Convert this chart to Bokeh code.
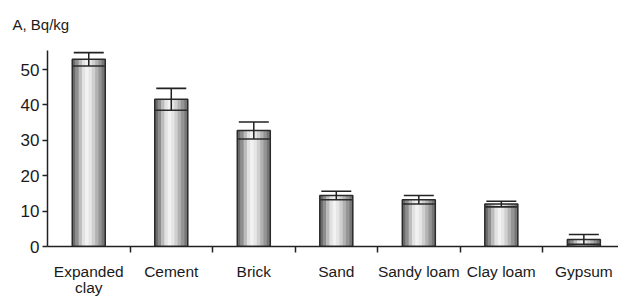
import numpy as np
from bokeh.plotting import figure
from bokeh.models import (ColumnDataSource, Range1d, FixedTicker, Whisker, TeeHead)
from bokeh.transform import dodge
from bokeh.embed import file_html
from bokeh.resources import INLINE

categories = ["Expanded\nclay", "Cement", "Brick", "Sand", "Sandy loam", "Clay loam", "Gypsum"]
values = [52.9, 41.6, 32.8, 14.4, 13.2, 12.0, 2.0]
errors = [1.9, 3.1, 2.4, 1.2, 1.2, 0.8, 1.4]
y_ticks = [0, 10, 20, 30, 40, 50]

xpos = np.arange(len(categories)) + 0.5
src = ColumnDataSource(dict(
    x=xpos, top=values,
    lower=np.array(values) - np.array(errors),
    upper=np.array(values) + np.array(errors),
))

FONT = "Liberation Sans"
p = figure(width=618, height=298, output_backend="svg", toolbar_location=None,
           x_range=Range1d(0, 6.92), y_range=Range1d(0, 55.4),
           min_border_left=47, min_border_right=0, min_border_top=50, min_border_bottom=52)
p.outline_line_color = None
p.grid.visible = False
p.background_fill_color = "white"

p.title.text = "A, Bq/kg"
p.title.align = "left"
p.title.vertical_align = "top"
p.title.offset = -35
p.title.standoff = 31
p.title.text_font = FONT
p.title.text_font_size = "15px"
p.title.text_font_style = "normal"
p.title.text_color = "#1a1a1a"

# cylinder-like shading via strips
BAR_W = 0.4
shades = ["#6a6a6a", "#8e8e8e", "#bcbcbc", "#e2e2e2", "#f2f2f2", "#e6e6e6",
          "#cfcfcf", "#b2b2b2", "#959595", "#767676"]
n = len(shades)
step = BAR_W / n
for i, c in enumerate(shades):
    off = -BAR_W / 2 + step * (i + 0.5)
    p.vbar(x=dodge("x", off), top="top", bottom=0, width=step * 1.15, source=src,
           fill_color=c, line_color=None)
p.vbar(x="x", top="top", bottom=0, width=BAR_W, source=src, fill_color=None,
       line_color="#2a2a2a", line_width=1.5)

wh = Whisker(base="x", lower="lower", upper="upper", source=src, level="overlay",
             line_color="#222222", line_width=1.5,
             upper_head=TeeHead(size=30, line_color="#222222", line_width=1.6),
             lower_head=TeeHead(size=32, line_color="#2a2a2a", line_width=1.6))
p.add_layout(wh)

# axes
yax = p.yaxis[0]
yax.ticker = FixedTicker(ticks=y_ticks)
yax.minor_tick_line_color = None
yax.major_tick_in = 0
yax.major_tick_out = 5
yax.axis_line_color = "#222222"
yax.axis_line_width = 1.5
yax.major_tick_line_color = "#222222"
yax.major_tick_line_width = 1.5
yax.major_label_text_font = FONT
yax.major_label_text_font_size = "17px"
yax.major_label_text_color = "#1a1a1a"
yax.major_label_standoff = 3

xax = p.xaxis[0]
xax.ticker = FixedTicker(ticks=list(xpos), minor_ticks=list(np.arange(1, len(categories))))
xax.major_label_overrides = {float(x): c for x, c in zip(xpos, categories)}
xax.major_tick_in = 0
xax.major_tick_out = 0
xax.minor_tick_in = 0
xax.minor_tick_out = 6
xax.minor_tick_line_color = "#222222"
xax.minor_tick_line_width = 1.5
xax.axis_line_color = "#222222"
xax.axis_line_width = 1.5
xax.major_label_text_font = FONT
xax.major_label_text_font_size = "15.5px"
xax.major_label_text_color = "#1a1a1a"
xax.major_label_standoff = 10
xax.major_label_text_line_height = 0.95

open("out.html", "w").write(file_html(p, INLINE))
